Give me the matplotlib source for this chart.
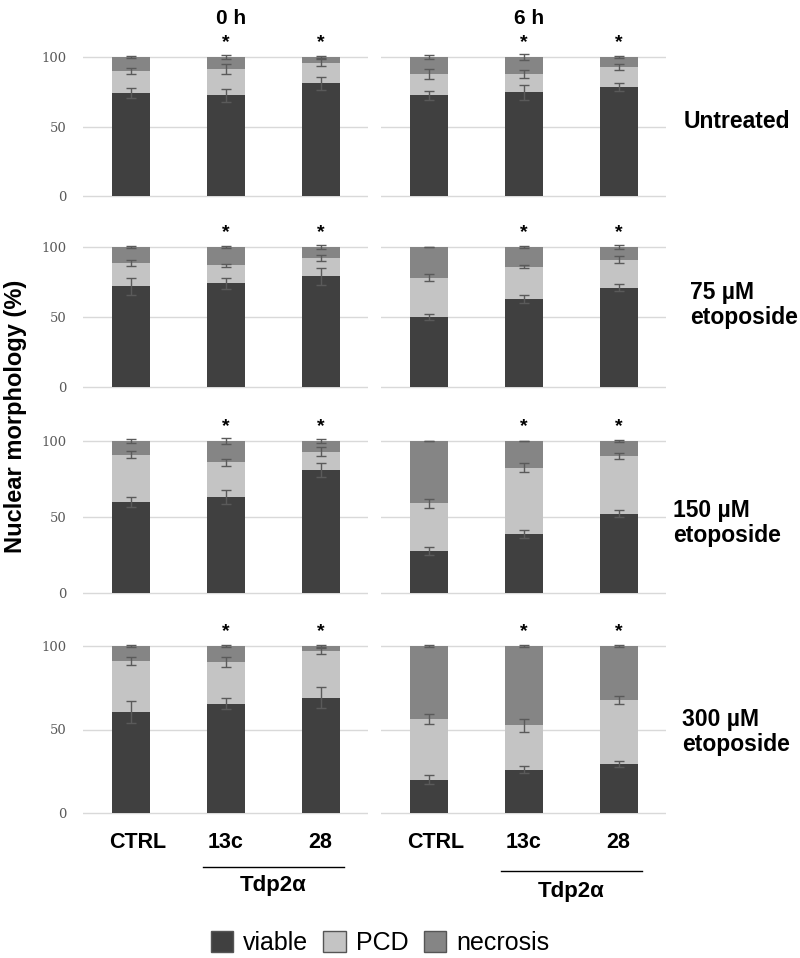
import numpy as np
import matplotlib
matplotlib.use("Agg")
import matplotlib.pyplot as plt
from matplotlib.patches import Patch
from matplotlib.transforms import ScaledTranslation, blended_transform_factory

plt.rcParams['font.family'] = ['Liberation Sans', 'DejaVu Sans']

# data: % of nuclei per category, rows = treatment, columns = CTRL, 13c, 28
groups = ["CTRL", "13c", "28"]
times = ["0 h", "6 h"]
treatments = ["Untreated", "75 µM\netoposide", "150 µM\netoposide", "300 µM\netoposide"]

viable_0h = [[74, 72.5, 81], [72, 74, 79], [60, 63, 81], [60.5, 65.5, 69]]
pcd_0h = [[16, 19, 15], [16.5, 13, 13], [31, 23, 12], [30.5, 25, 28]]
necrosis_0h = [[10, 8.5, 4], [11.5, 13, 8], [9, 14, 7], [9, 9.5, 3]]
viable_0h_err = [[3.4, 4.8, 4.8], [6, 3.8, 6], [3.4, 4.5, 4.8], [6.5, 3.5, 6.2]]
pcd_0h_err = [[2, 3.6, 2.8], [2, 1, 2.3], [2.4, 2.4, 3], [2.2, 2.9, 2]]
necrosis_0h_err = [[1, 1.5, 1], [0.5, 0.8, 1.5], [1, 1.8, 1], [0.5, 0.5, 0.8]]

viable_6h = [[72.5, 74.5, 78.5], [50, 63, 71], [27.5, 39, 52], [20, 26, 29.5]]
pcd_6h = [[15, 13, 14], [28, 23, 20], [31.5, 43.5, 38], [36, 26.5, 38]]
necrosis_6h = [[12.5, 12.5, 7.5], [22, 14, 9], [41, 17.5, 10], [44, 47.5, 32.5]]
viable_6h_err = [[3.1, 5.2, 2.8], [2.4, 3, 2.4], [2.7, 2.7, 2.3], [2.5, 2, 1.7]]
pcd_6h_err = [[3.6, 2.8, 2.2], [2.4, 1, 2.4], [3.1, 2.7, 2], [3, 3.7, 2.5]]
necrosis_6h_err = [[1.5, 2, 1], [0.3, 0.5, 1.5], [0.3, 0.3, 0.5], [0.5, 0.8, 0.5]]

significant = [1, 2]  # bars marked with *

colors = {"viable": "#404040", "PCD": "#c4c4c4", "necrosis": "#858585"}

W, H = 800, 958
fig = plt.figure(figsize=(W / 100, H / 100), dpi=100)

col_left = [83, 381]
col_width = 285
row_top = [57, 247, 441, 646]
row_bottom = [196, 387, 593, 813]
pad = 3

series = {
    0: (viable_0h, pcd_0h, necrosis_0h, viable_0h_err, pcd_0h_err, necrosis_0h_err),
    1: (viable_6h, pcd_6h, necrosis_6h, viable_6h_err, pcd_6h_err, necrosis_6h_err),
}

x = np.arange(len(groups))
err_kw = dict(fmt="none", ecolor="#5a5a5a", elinewidth=1, capsize=3.5, capthick=1, zorder=4)

for c in range(2):
    viable, pcd, nec, v_err, p_err, n_err = series[c]
    for r in range(4):
        top, bot = row_top[r], row_bottom[r]
        ppu = (bot - top) / 100
        y_lo = bot + pad * ppu
        y_hi = top - pad * ppu
        ax = fig.add_axes([col_left[c] / W, 1 - y_lo / H, col_width / W, (y_lo - y_hi) / H])
        ax.set_xlim(-0.5, 2.5)
        ax.set_ylim(-pad, 100 + pad)

        v = np.array(viable[r])
        p = np.array(pcd[r])
        n = np.array(nec[r])
        ax.bar(x, v, width=0.4, color=colors["viable"], zorder=3)
        ax.bar(x, p, width=0.4, bottom=v, color=colors["PCD"], zorder=3)
        ax.bar(x, n, width=0.4, bottom=v + p, color=colors["necrosis"], zorder=3)
        ax.errorbar(x, v, yerr=v_err[r], **err_kw)
        ax.errorbar(x, v + p, yerr=p_err[r], **err_kw)
        ax.errorbar(x, v + p + n, yerr=n_err[r], **err_kw)

        for i in significant:
            ax.annotate("*", (i, 100), xytext=(0, 4), textcoords="offset points",
                        ha="center", va="bottom", fontsize=14, fontweight="bold")

        ax.set_yticks([0, 50, 100])
        ax.yaxis.grid(True, color="#d9d9d9", linewidth=1)
        ax.set_axisbelow(True)
        for s in ax.spines.values():
            s.set_visible(False)
        ax.tick_params(length=0)
        if c == 0:
            ax.set_yticklabels(["0", "50", "100"], family="DejaVu Serif",
                               fontsize=9.5, color="#595959")
            ax.tick_params(axis="y", pad=12)
        else:
            ax.set_yticklabels([])

        if r == 0:
            ax.set_title(times[c], x=0.52, fontsize=15, fontweight="bold", pad=21)

        if r == 3:
            ax.set_xticks(x, groups, fontsize=15.5, fontweight="bold")
            ax.tick_params(axis="x", pad=10)
            lbl = ax.get_xticklabels()[0]
            lbl.set_transform(lbl.get_transform() + ScaledTranslation(0.07, 0, fig.dpi_scale_trans))
            trans = blended_transform_factory(ax.transData, fig.transFigure)
            line_y = [867, 871][c]
            text_y = [885, 891][c]
            ax.plot([0.76, 2.25], [1 - line_y / H] * 2, color="black", lw=1,
                    transform=trans, clip_on=False)
            ax.text(1.5, 1 - text_y / H, "Tdp2α", transform=trans, ha="center",
                    va="center", fontsize=16, fontweight="bold")
        else:
            ax.set_xticks([])

# treatment labels at the right
label_x = [684, 690, 673, 682]
label_y = [122, 305, 523, 732]
for lab, lx, ly in zip(treatments, label_x, label_y):
    fig.text(lx / W, 1 - ly / H, lab, ha="left", va="center", fontsize=16.5,
             fontweight="bold", linespacing=1.15)

fig.text(16 / W, 1 - 416 / H, "Nuclear morphology (%)", rotation=90, ha="center",
         va="center", fontsize=17, fontweight="bold")

handles = [Patch(facecolor=colors[k], edgecolor="#555555", linewidth=1) for k in colors]
fig.legend(handles, list(colors.keys()), loc="center", bbox_to_anchor=(380 / W, 1 - 943 / H),
           ncol=3, frameon=False, fontsize=18, handlelength=0.9, handleheight=0.9,
           columnspacing=0.6, handletextpad=0.4)

fig.savefig("out.png", dpi=100)
